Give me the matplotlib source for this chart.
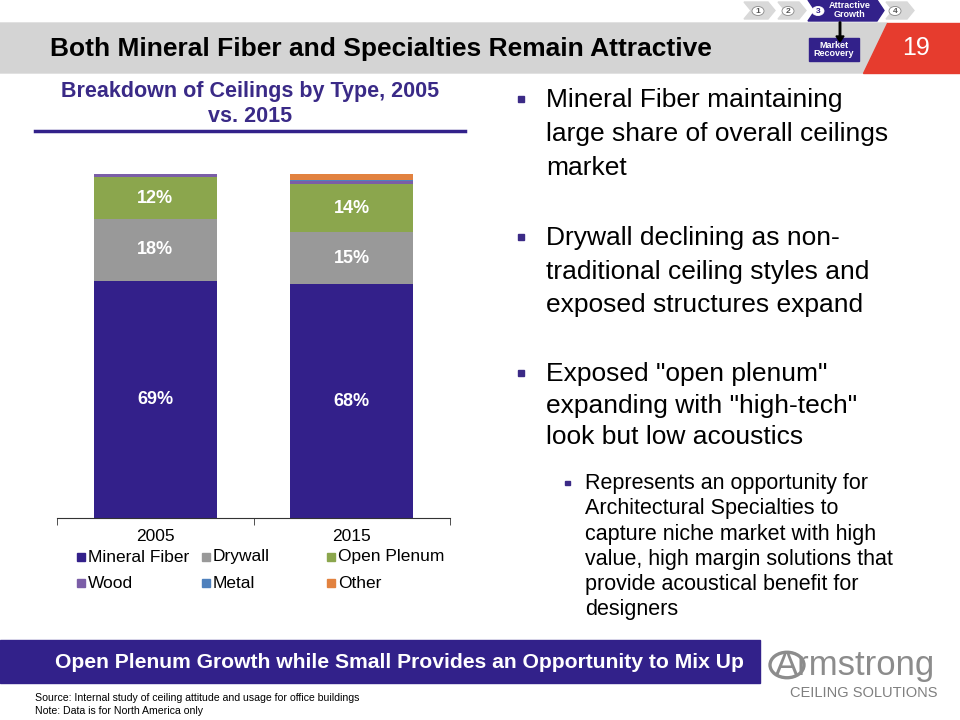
import matplotlib.pyplot as plt
from matplotlib.patches import Polygon, Rectangle, Circle, FancyArrow

plt.rcParams["font.family"] = ["Liberation Sans", "DejaVu Sans"]

# =========================
# Chart data (share of ceilings, %)
# =========================
years = ["2005", "2015"]
categories = ["Mineral Fiber", "Drywall", "Open Plenum", "Wood", "Metal", "Other"]
share_2005 = [69, 18, 12, 1, 0, 0]
share_2015 = [68, 15, 14, 1, 0.3, 1.7]
show_label = [True, True, True, False, False, False]
colors = ["#33208A", "#999999", "#8BA64D", "#7B5EA7", "#4F81BD", "#E2823F"]

W, H = 960, 720
PURPLE = "#32218A"


def fx(x):
    return x / W


def fy(y):
    return 1 - y / H


def ptext(x, y, s, **kw):
    fig.text(fx(x), fy(y), s, **kw)


fig = plt.figure(figsize=(9.6, 7.2), dpi=100)

# ---- header band ----
fig.patches.append(Polygon([(fx(0), fy(23)), (fx(887), fy(23)), (fx(863), fy(73)), (fx(0), fy(73))],
                           closed=True, transform=fig.transFigure, color="#D4D4D4", zorder=0))
fig.patches.append(Polygon([(fx(887), fy(23)), (fx(960), fy(23)), (fx(960), fy(73)), (fx(863), fy(73))],
                           closed=True, transform=fig.transFigure, color="#E63C2E", zorder=0))
ptext(50, 49, "Both Mineral Fiber and Specialties Remain Attractive", fontsize=19, fontweight="bold",
      va="center", ha="left", color="black")
ptext(916, 48, "19", fontsize=18, color="white", va="center", ha="center")

# ---- navigation chevrons ----
def chevron(x0, x1, y0, y1, color):
    tip = 7
    pts = [(x0, y0), (x1 - tip, y0), (x1, (y0 + y1) / 2), (x1 - tip, y1), (x0, y1), (x0 + tip, (y0 + y1) / 2)]
    fig.patches.append(Polygon([(fx(a), fy(b)) for a, b in pts], closed=True,
                               transform=fig.transFigure, color=color, zorder=1))


chevron(744, 775, 2, 19, "#D9D9D9")
chevron(778, 806, 2, 19, "#D9D9D9")
chevron(808, 884, 0, 21, PURPLE)
chevron(886, 914, 2, 19, "#D9D9D9")
for cx, num, tc in [(758, "1", "#555555"), (788, "2", "#555555"), (818, "3", PURPLE), (895, "4", "#555555")]:
    fig.patches.append(Circle((fx(cx), fy(11)), 6 / W, transform=fig.transFigure, facecolor="white",
                              edgecolor="#888888" if tc != PURPLE else "white",
                              linewidth=0.6, zorder=2))
    ptext(cx, 11.5, num, fontsize=6, color=tc, ha="center", va="center", fontweight="bold", zorder=3)
ptext(850, 10, "Attractive\nGrowth", fontsize=6.5, color="white", ha="center", va="center",
      fontweight="bold", linespacing=0.95)
fig.patches.append(FancyArrow(fx(840), fy(22), 0, -(14 / H), width=1.5 / W, head_width=8 / W,
                              head_length=6 / H, transform=fig.transFigure, color="black", zorder=2))
fig.patches.append(Rectangle((fx(809), fy(61)), 50 / W, 23 / H, transform=fig.transFigure,
                             color=PURPLE, zorder=1))
ptext(834, 49.5, "Market\nRecovery", fontsize=6.5, color="white", ha="center", va="center",
      fontweight="bold", linespacing=0.95)

# ---- chart title ----
ptext(250, 92, "Breakdown of Ceilings by Type, 2005", fontsize=15.5, fontweight="bold",
      color="#3A2A87", ha="center", va="center")
ptext(250, 117, "vs. 2015", fontsize=15.5, fontweight="bold",
      color="#3A2A87", ha="center", va="center")
fig.lines.append(plt.Line2D([fx(35), fx(465)], [fy(131), fy(131)], transform=fig.transFigure,
                            color=PURPLE, linewidth=2.5))

# ---- stacked bar chart ----
ax = fig.add_axes([fx(57), fy(518), 393 / W, 344 / H])
series = list(zip(share_2005, share_2015))
bottom = [0, 0]
for name, vals, color, lab in zip(categories, series, colors, show_label):
    ax.bar([0, 1], vals, bottom=bottom, width=0.626, color=color, label=name)
    if lab:
        for i, v in enumerate(vals):
            ax.text(i, bottom[i] + v / 2, f"{v:.0f}%", ha="center", va="center",
                    color="white", fontsize=13, fontweight="bold")
    bottom = [b + v for b, v in zip(bottom, vals)]

ax.set_xlim(-0.5, 1.5)
ax.set_ylim(0, 100)
for s in ["top", "right", "left"]:
    ax.spines[s].set_visible(False)
ax.spines["bottom"].set_color("#333333")
ax.set_yticks([])
ax.set_xticks([0, 1])
ax.set_xticklabels(years, fontsize=12.5)
ax.tick_params(axis="x", which="major", length=0, pad=8)
ax.set_xticks([-0.5, 0.5, 1.5], minor=True)
ax.tick_params(axis="x", which="minor", length=5, color="#333333")
ax.patch.set_alpha(0)

# ---- legend (3 equal-width columns) ----
for i, (name, color) in enumerate(zip(categories, colors)):
    col, row = i % 3, i // 3
    lx = 77 + col * 125
    ly = 557 + row * 26
    fig.patches.append(Rectangle((fx(lx), fy(ly + 4)), 8 / W, 8 / H, transform=fig.transFigure,
                                 color=color))
    ptext(lx + 11, ly, name, fontsize=12.5, ha="left", va="center")

# ---- bullets ----
main_bullets = [
    (107, ["Mineral Fiber maintaining", "large share of overall ceilings", "market"], 34),
    (245, ["Drywall declining as non-", "traditional ceiling styles and", "exposed structures expand"], 33.5),
    (381, ["Exposed \"open plenum\"", "expanding with \"high-tech\"", "look but low acoustics"], 31.5),
]
for base, lines, step in main_bullets:
    fig.patches.append(Rectangle((fx(518), fy(base - 5)), 6 / W, 6 / H, transform=fig.transFigure,
                                 color="#3B2A86"))
    for k, line in enumerate(lines):
        ptext(546, base + k * step, line, fontsize=19, ha="left", va="baseline")

sub_lines = ["Represents an opportunity for", "Architectural Specialties to",
             "capture niche market with high", "value, high margin solutions that",
             "provide acoustical benefit for", "designers"]
fig.patches.append(Rectangle((fx(565), fy(485)), 4.5 / W, 4.5 / H, transform=fig.transFigure,
                             color="#3B2A86"))
for k, line in enumerate(sub_lines):
    ptext(585, 489 + k * 25.3, line, fontsize=15.5, ha="left", va="baseline")

# ---- bottom banner ----
fig.patches.append(Rectangle((0, fy(683)), 760 / W, 43 / H, transform=fig.transFigure, color=PURPLE))
ptext(399, 662, "Open Plenum Growth while Small Provides an Opportunity to Mix Up", fontsize=15.2,
      fontweight="bold", color="white", ha="center", va="center")

# ---- logo ----
fig.patches.append(Circle((fx(787), fy(665)), 17 / W, transform=fig.transFigure, facecolor="none",
                          edgecolor="#8C8C8C", linewidth=2.4))
ptext(775, 666, "Armstrong", fontsize=25, color="#8C8C8C", ha="left", va="center")
ptext(937, 693, "CEILING SOLUTIONS", fontsize=10.5, color="#7F7F7F", ha="right", va="center")

# ---- footnotes ----
ptext(35, 698, "Source: Internal study of ceiling attitude and usage for office buildings", fontsize=7.6,
      ha="left", va="center")
ptext(35, 711, "Note: Data is for North America only", fontsize=7.6, ha="left", va="center")

fig.savefig("out.png", dpi=100)
